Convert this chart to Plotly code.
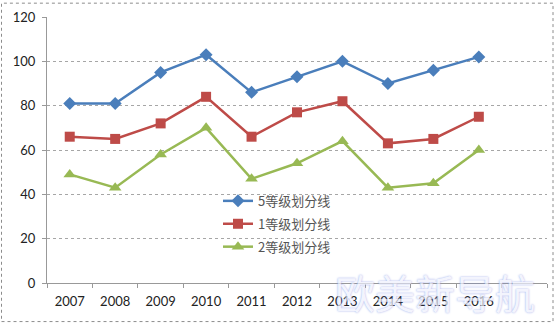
import plotly.graph_objects as go

years = [2007, 2008, 2009, 2010, 2011, 2012, 2013, 2014, 2015, 2016]
grade5 = [81, 81, 95, 103, 86, 93, 100, 90, 96, 102]
grade1 = [66, 65, 72, 84, 66, 77, 82, 63, 65, 75]
grade2 = [49, 43, 58, 70, 47, 54, 64, 43, 45, 60]
names = ["5等级划分线", "1等级划分线", "2等级划分线"]
y_ticks = [0, 20, 40, 60, 80, 100, 120]

fig = go.Figure()
styles = [
    (grade5, "#4a7ebb", "diamond", 10),
    (grade1, "#be4b48", "square", 10),
    (grade2, "#98b954", "triangle-up", 11),
]
for name, (vals, col, sym, sz) in zip(names, styles):
    fig.add_trace(go.Scatter(
        x=years, y=vals, name=name, legendgroup=name,
        mode="lines+markers",
        line=dict(color=col, width=2.5),
        marker=dict(symbol=sym, size=sz, color=col),
    ))

fig.add_annotation(
    text="欧美新导航", xref="paper", yref="paper",
    x=0.776, y=-0.035, xanchor="center", yanchor="middle",
    showarrow=False, opacity=0.7, borderpad=0,
    font=dict(family="Noto Sans CJK SC", size=40, color="#eef0fd",
              shadow="0 0 2px #6f80e0"),
)

fig.update_layout(
    width=556, height=324,
    margin=dict(l=47, r=9, t=15, b=41, pad=0),
    paper_bgcolor="white", plot_bgcolor="white",
    showlegend=True,
    legend=dict(x=0.342, y=0.365, xanchor="left", yanchor="top",
                bgcolor="rgba(0,0,0,0)", tracegroupgap=3,
                font=dict(family="Noto Sans CJK SC", size=13, color="#555555")),
    font=dict(family="Lato", size=13, color="#222222"),
    xaxis=dict(range=[2006.5, 2017.5], tickvals=years, ticktext=[str(y) for y in years],
               showgrid=False, zeroline=False, showline=True,
               linecolor="#999999", linewidth=1, ticks="", ticklabelstandoff=6,
               minor=dict(tick0=2006.5, dtick=1, ticks="outside", ticklen=4,
                          tickcolor="#999999", showgrid=False)),
    yaxis=dict(range=[0, 120], tickvals=y_ticks, showgrid=True,
               gridcolor="#a6a6a6", griddash="dot", gridwidth=1,
               zeroline=False, showline=True, linecolor="#999999",
               ticks="outside", ticklen=4, tickcolor="#999999", ticklabelstandoff=4),
    shapes=[dict(type="rect", xref="paper", yref="paper",
                 x0=-0.091, x1=1.012, y0=-0.145, y1=1.052,
                 line=dict(color="#8c8c8c", width=1, dash="dot"))],
)

fig.write_html("out.html")
